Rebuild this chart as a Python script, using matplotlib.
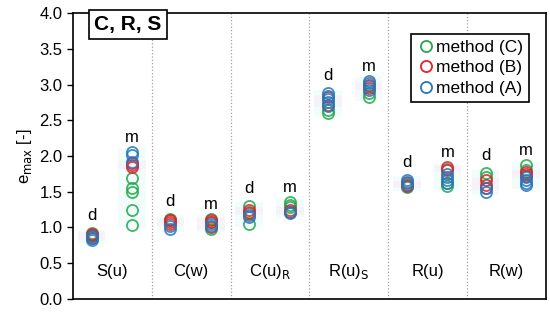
import matplotlib
matplotlib.use("Agg")
import matplotlib.pyplot as plt

plt.rcParams["font.family"] = ["Liberation Sans", "DejaVu Sans"]

# ── Dati ─────────────────────────────────────────────────────────────────
groups = ["S(u)", "C(w)", r"C(u)$_{\mathrm{R}}$", r"R(u)$_{\mathrm{S}}$", "R(u)", "R(w)"]

# valori per gruppo: (d, m)
method_c = [
    ([0.88, 0.90, 0.92], [1.69, 1.55, 1.50, 1.24, 1.04]),
    ([1.12, 1.10], [1.12, 1.08, 0.98]),
    ([1.30, 1.22, 1.05], [1.35, 1.31, 1.28]),
    ([2.65, 2.60], [2.88, 2.82]),
    ([1.60, 1.56], [1.82, 1.62, 1.58]),
    ([1.76, 1.70], [1.87, 1.80]),
]
method_b = [
    ([0.86, 0.89, 0.91], [1.90, 1.87, 1.85]),
    ([1.10, 1.07, 1.05], [1.10, 1.07, 1.00]),
    ([1.25, 1.20], [1.25, 1.21]),
    ([2.82, 2.72], [3.00, 2.95]),
    ([1.62, 1.58], [1.85, 1.80]),
    ([1.66, 1.60, 1.55], [1.78, 1.75, 1.72]),
]
method_a = [
    ([0.82, 0.85, 0.88], [2.06, 2.01, 1.92]),
    ([1.02, 0.98], [1.05, 1.02]),
    ([1.18, 1.14], [1.22, 1.20]),
    ([2.88, 2.84, 2.80, 2.75, 2.70], [3.05, 3.02, 2.98, 2.93]),
    ([1.67, 1.64, 1.60], [1.75, 1.70, 1.66, 1.62]),
    ([1.55, 1.50], [1.70, 1.66, 1.62, 1.59]),
]
series = [
    ("method (C)", method_c, "#22a84c"),
    ("method (B)", method_b, "#e3202a"),
    ("method (A)", method_a, "#2677b9"),
]

x_d, x_m = 0.47, 1.50  # posizione dentro ogni gruppo (larghezza 2)
FS = 12

fig = plt.figure(figsize=(5.5, 3.12), dpi=100)
ax = fig.add_axes([0.1327, 0.0417, 0.86, 0.9166])

# ── Bande di range (sfondo tenue) ────────────────────────────────────────
for gi in range(len(groups)):
    for k, xc in enumerate((x_d, x_m)):
        vals_ac = method_a[gi][k] + method_c[gi][k]
        vals_b = method_b[gi][k]
        x0 = 2 * gi + xc
        ax.fill_between([x0 - 0.35, x0 + 0.35], min(vals_ac) - 0.05, max(vals_ac) + 0.05,
                        color="#d4f7f5", alpha=0.3, lw=0, zorder=1)
        ax.fill_between([x0 - 0.35, x0 + 0.35], min(vals_b) - 0.03, max(vals_b) + 0.03,
                        color="#fce0f2", alpha=0.3, lw=0, zorder=1)

# ── Punti ────────────────────────────────────────────────────────────────
for label, data, col in series:
    xs, ys = [], []
    for gi, (d, m) in enumerate(data):
        xs += [2 * gi + x_d] * len(d) + [2 * gi + x_m] * len(m)
        ys += d + m
    ax.plot(xs, ys, "o", ls="none", ms=8, mfc="none", mec=col, mew=1.3,
            alpha=0.85, label=label, zorder=3)

# ── Etichette d / m e nomi gruppi ────────────────────────────────────────
for gi, name in enumerate(groups):
    top_d = max(method_a[gi][0] + method_b[gi][0] + method_c[gi][0])
    top_m = max(method_a[gi][1] + method_b[gi][1] + method_c[gi][1])
    ax.text(2 * gi + x_d, top_d + 0.14, "d", ha="center", va="bottom", fontsize=FS)
    ax.text(2 * gi + x_m, top_m + 0.10, "m", ha="center", va="bottom", fontsize=FS)
    ax.text(2 * gi + 1.0, 0.38, name, ha="center", va="center", fontsize=FS)
    if gi > 0:
        ax.axvline(2 * gi, color="#a0a0a0", ls=":", lw=0.9, zorder=0)

ax.set_xlim(0, 2 * len(groups))
ax.set_ylim(0, 4)
ax.set_yticks([i * 0.5 for i in range(9)])
ax.set_yticklabels([f"{i * 0.5:.1f}" for i in range(9)], fontsize=FS)
ax.set_xticks([])
ax.tick_params(axis="y", direction="out", length=4, width=1)
for sp in ax.spines.values():
    sp.set_linewidth(1.2)
ax.set_ylabel(r"e$_{\mathrm{max}}$ [-]", fontsize=FS, labelpad=4)

ax.text(0.045, 0.993, "C, R, S", transform=ax.transAxes, ha="left", va="top",
        fontsize=15, fontweight="bold",
        bbox=dict(boxstyle="square,pad=0.25", fc="white", ec="black", lw=1.2), zorder=5)

leg = ax.legend(loc="upper right", bbox_to_anchor=(0.982, 0.958), fontsize=12.5,
                frameon=True, fancybox=False, edgecolor="black", framealpha=1,
                handletextpad=0.05, handlelength=1.0, borderpad=0.35, labelspacing=0.3)
leg.get_frame().set_linewidth(1.2)
for h in leg.legend_handles:
    h.set_alpha(1)

fig.savefig("out.png", dpi=100)
